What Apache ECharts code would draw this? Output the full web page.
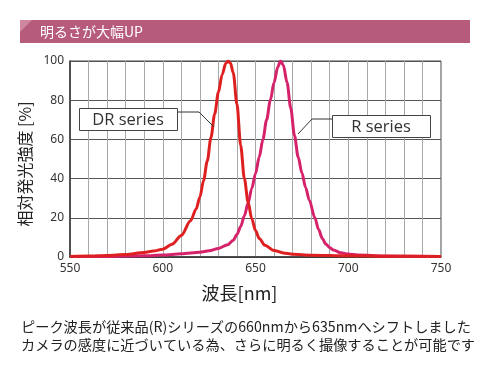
<!DOCTYPE html>
<html><head><meta charset="utf-8">
<script src="https://cdn.jsdelivr.net/npm/echarts@6/dist/echarts.min.js"></script>
<style>html,body{margin:0;padding:0;background:#fff;}#c{width:490px;height:370px;}</style>
</head><body><div id="c"></div>
<script>
var title = '明るさが大幅UP';
var xName = '波長[nm]';
var yName = '相対発光強度 [%]';
var caption1 = 'ピーク波長が従来品(R)シリーズの660nmから635nmへシフトしました';
var caption2 = 'カメラの感度に近づいている為、さらに明るく撮像することが可能です';
var drLabel = 'DR series';
var rLabel = 'R series';

var drWave = [550,560,570,580,590,595,600,605,610,615,618,620,622,624,626,628,630,632,634,635.3,636.5,638,640,642,644,646,648,650,652,655,660,665,670,680,700,720,750];
var drValue = [0.3,0.5,0.8,1.3,2.3,3,4,6.5,11,18.5,24.5,30.5,39,49,61,73,84,93,98.8,100,99,94,78,57,40,28,19.5,13.5,9.5,6,3.3,2.1,1.4,0.9,0.6,0.4,0.3];

var rWave = [550,570,590,600,610,620,625,630,635,638,640,642,644,646,648,650,652,654,656,658,660,662,663.5,665,667,669,671,673,675,677,679,682,684,686,688,690,692,696,700,705,720,750];
var rValue = [0.2,0.3,0.6,1,1.6,2.4,3.2,4.4,6.3,8.6,11.5,15.5,21,27.5,35,42.5,51,60,70,80,89,97,100,98,89,76,62,51,43,35.5,29,20,14,9.5,6.5,4.8,3.6,2.2,1.5,1,0.5,0.3];

function pairs(xs, ys){ return xs.map(function(x,i){ return [x, ys[i]]; }); }

var chart = echarts.init(document.getElementById('c'));
chart.setOption({
  animation: false,
  backgroundColor: '#fff',
  grid: {left: 70, right: 49, top: 61, bottom: 113, show: true, borderColor: '#444', borderWidth: 1},
  xAxis: {
    type: 'value', min: 550, max: 750, interval: 10,
    name: xName, nameLocation: 'middle', nameGap: 27,
    nameTextStyle: {fontSize: 18, color: '#222', fontFamily: 'Noto Sans CJK JP', padding: [0, 32, 0, 0]},
    axisLine: {lineStyle: {color: '#333', width: 1.5}},
    axisTick: {show: false},
    axisLabel: {color: '#333', fontSize: 12, margin: 6, fontFamily: 'Noto Sans',
      formatter: function(v){ return v % 50 === 0 ? String(v) : ''; }},
    splitLine: {show: true, lineStyle: {color: '#a8a8a8', width: 1}}
  },
  yAxis: {
    type: 'value', min: 0, max: 100, interval: 20,
    name: yName, nameLocation: 'middle', nameGap: 25, nameRotate: 90,
    nameTextStyle: {fontSize: 16, color: '#222', fontFamily: 'Noto Sans CJK JP', padding: [0, 10, 0, 0]},
    axisLine: {show: true, lineStyle: {color: '#333', width: 1.5}},
    axisTick: {show: false},
    axisLabel: {color: '#333', fontSize: 12, margin: 6, fontFamily: 'Noto Sans'},
    splitLine: {show: true, lineStyle: {color: '#555', width: 1}}
  },
  series: [
    {type: 'line', name: 'R', data: pairs(rWave, rValue), smooth: 0.3, smoothMonotone: 'x', showSymbol: false,
      lineStyle: {color: '#d5226a', width: 3}, z: 3},
    {type: 'line', name: 'DR', data: pairs(drWave, drValue), smooth: 0.3, smoothMonotone: 'x', showSymbol: false,
      lineStyle: {color: '#de2020', width: 3}, z: 4}
  ],
  graphic: [
    {type: 'rect', shape: {x: 20, y: 20, width: 450, height: 23}, style: {fill: '#b75b7d'}},
    {type: 'polygon', shape: {points: [[20,20],[32,20],[20,32]]}, style: {fill: '#cf87a2'}},
    {type: 'text', x: 40, y: 32, style: {text: title, fill: '#fff', fontSize: 14, fontFamily: 'Noto Sans CJK JP', verticalAlign: 'middle'}},
    {type: 'polyline', shape: {points: [[177,112],[199,112],[214,127]]}, style: {stroke: '#333', lineWidth: 1, fill: null}, z: 10},
    {type: 'rect', shape: {x: 79.5, y: 108.5, width: 98, height: 22}, style: {fill: '#fff', stroke: '#444', lineWidth: 1}, z: 10},
    {type: 'text', x: 128, y: 120, style: {text: drLabel, fill: '#333', fontSize: 16.5, fontFamily: 'Open Sans', align: 'center', verticalAlign: 'middle'}, z: 11},
    {type: 'polyline', shape: {points: [[332,119],[312,119],[298,134]]}, style: {stroke: '#333', lineWidth: 1, fill: null}, z: 10},
    {type: 'rect', shape: {x: 332.5, y: 115.5, width: 98, height: 22}, style: {fill: '#fff', stroke: '#444', lineWidth: 1}, z: 10},
    {type: 'text', x: 381, y: 127, style: {text: rLabel, fill: '#333', fontSize: 16.5, fontFamily: 'Open Sans', align: 'center', verticalAlign: 'middle'}, z: 11},
    {type: 'text', x: 21, y: 327, style: {text: caption1, fill: '#222', fontSize: 14.2, fontFamily: 'Noto Sans CJK JP', verticalAlign: 'middle'}},
    {type: 'text', x: 21, y: 345, style: {text: caption2, fill: '#222', fontSize: 14.2, fontFamily: 'Noto Sans CJK JP', verticalAlign: 'middle'}}
  ]
});
</script></body></html>
